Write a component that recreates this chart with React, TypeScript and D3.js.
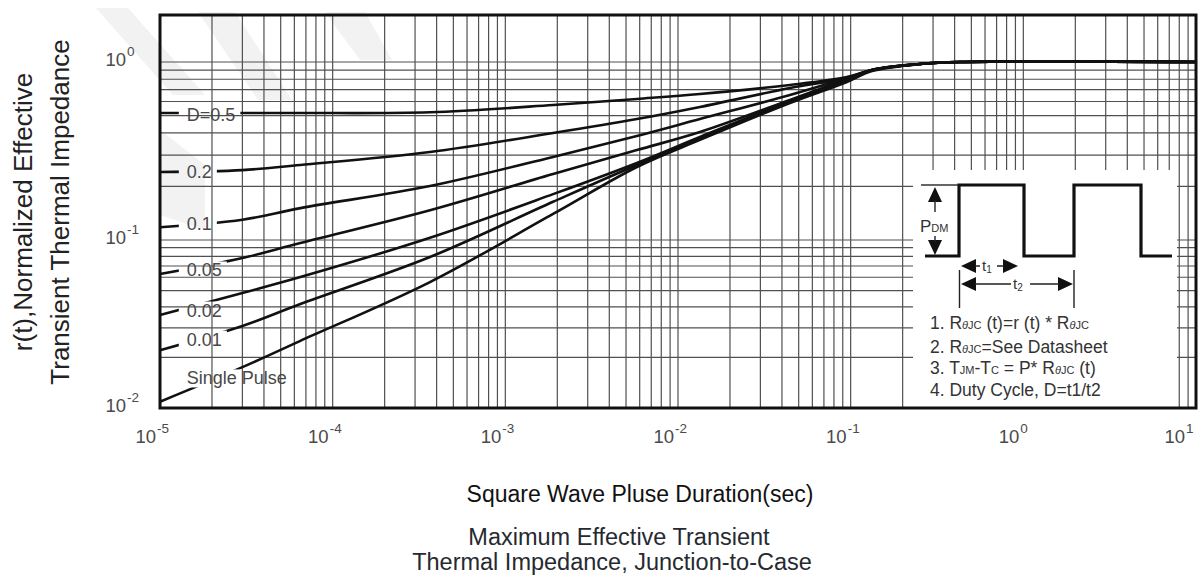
import React, { useEffect, useRef } from 'react';
import * as d3 from 'd3';

const W = 1199;
const H = 580;

// Pulse duration sample points (sec)
const pulseTimes = [1e-5, 3e-5, 6.5e-5, 3.66e-4, 1.89e-3, 5.78e-3, 1.34e-2, 4.45e-2, 9.5e-2, 0.133, 0.252, 0.43, 10];

// Normalized effective transient thermal impedance r(t) for each duty cycle
const rD05 = [0.517, 0.517, 0.517, 0.522, 0.573, 0.62, 0.661, 0.743, 0.823, 0.902, 0.974, 1.0, 1.0];
const rD02 = [0.241, 0.247, 0.264, 0.312, 0.399, 0.478, 0.559, 0.714, 0.813, 0.902, 0.974, 1.0, 1.0];
const rD01 = [0.118, 0.13, 0.151, 0.201, 0.293, 0.384, 0.478, 0.653, 0.813, 0.902, 0.974, 1.0, 1.0];
const rD005 = [0.0627, 0.0781, 0.096, 0.147, 0.235, 0.32, 0.404, 0.612, 0.803, 0.902, 0.974, 1.0, 1.0];
const rD002 = [0.0358, 0.0484, 0.0602, 0.103, 0.181, 0.271, 0.379, 0.604, 0.792, 0.902, 0.974, 1.0, 1.0];
const rD001 = [0.0221, 0.0308, 0.0416, 0.0792, 0.164, 0.264, 0.369, 0.596, 0.782, 0.902, 0.974, 1.0, 1.0];
const rSingle = [0.0109, 0.0175, 0.0251, 0.0562, 0.14, 0.257, 0.365, 0.588, 0.772, 0.89, 0.974, 1.0, 1.0];

const seriesValues = [rD05, rD02, rD01, rD005, rD002, rD001, rSingle];
const seriesLabels = ['D=0.5', '0.2', '0.1', '0.05', '0.02', '0.01', 'Single Pulse'];
// label anchor (data space): time of label start, r at label centre
const labelTime = 1.43e-5;
const labelR = [0.51, 0.244, 0.123, 0.0663, 0.0383, 0.0257, 0.0151];

const xTickExps = [-5, -4, -3, -2, -1, 0, 1];
const yTickExps = [-2, -1, 0];

const xTitle = 'Square Wave Pluse Duration(sec)';
const yTitle1 = 'r(t),Normalized Effective';
const yTitle2 = 'Transient Thermal Impedance';
const title1 = 'Maximum Effective Transient';
const title2 = 'Thermal Impedance, Junction-to-Case';

const FONT = '"Liberation Sans", Arial, Helvetica, sans-serif';

export default function App() {
  const ref = useRef<SVGSVGElement>(null);

  useEffect(() => {
    document.body.style.margin = '0';
    const svg = d3.select(ref.current as SVGSVGElement);
    svg.selectAll('*').remove();
    svg.attr('font-family', FONT);

    const L = 160, R = 1196, T = 15, B = 408;
    const x = d3.scaleLog().domain([1e-5, 10]).range([L, R]);
    const y = d3.scaleLog().domain([0.01, 0.1, 1]).range([B, 240, 62]);

    svg.append('rect').attr('width', W).attr('height', H).attr('fill', '#fff');

    // faint watermark
    const wm = svg.append('g').attr('fill', '#f2f2f2');
    const wmShapes = [
      [[96, 8], [128, 8], [205, 95], [173, 95]],
      [[198, 12], [235, 12], [292, 100], [258, 100]],
      [[325, 12], [365, 12], [392, 60], [360, 60]],
      [[160, 130], [205, 165], [205, 230], [160, 215]],
    ];
    wmShapes.forEach((p) => wm.append('polygon').attr('points', p.map((q) => q.join(',')).join(' ')));

    // grid
    const xGrid: number[] = [];
    for (let e = -5; e <= 0; e++) for (let k = 1; k <= 9; k++) xGrid.push(k * Math.pow(10, e));
    xGrid.push(10);
    const yGrid: number[] = [];
    for (let e = -2; e <= -1; e++) for (let k = 1; k <= 9; k++) yGrid.push(k * Math.pow(10, e));
    yGrid.push(1);

    const grid = svg.append('g').attr('stroke', '#505050').attr('stroke-width', 1.2);
    grid.selectAll('line.v').data(xGrid).enter().append('line')
      .attr('x1', (d) => x(d)).attr('x2', (d) => x(d)).attr('y1', T).attr('y2', B);
    grid.selectAll('line.h').data(yGrid).enter().append('line')
      .attr('x1', L).attr('x2', R).attr('y1', (d) => y(d)).attr('y2', (d) => y(d));

    // inset box
    const ins = svg.append('g');
    ins.append('rect').attr('x', 913).attr('y', 170).attr('width', 264).attr('height', 237).attr('fill', '#fff');
    ins.append('path').attr('d', 'M925,256H959V185H1024V256H1074V185H1141V256H1172')
      .attr('stroke', '#111').attr('stroke-width', 3.2).attr('fill', 'none');
    ins.append('path').attr('d', 'M921,185H958').attr('stroke', '#333').attr('stroke-width', 1.3);

    const head = (tx: number, ty: number, dir: string) => {
      const l = 15, w = 7;
      let pts: number[][];
      if (dir === 'up') pts = [[tx, ty], [tx - w, ty + l], [tx + w, ty + l]];
      else if (dir === 'down') pts = [[tx, ty], [tx - w, ty - l], [tx + w, ty - l]];
      else if (dir === 'left') pts = [[tx, ty], [tx + l, ty - w], [tx + l, ty + w]];
      else pts = [[tx, ty], [tx - l, ty - w], [tx - l, ty + w]];
      ins.append('polygon').attr('points', pts.map((p) => p.join(',')).join(' ')).attr('fill', '#111');
    };
    const thin = (d: string) => ins.append('path').attr('d', d).attr('stroke', '#222').attr('stroke-width', 1.4).attr('fill', 'none');

    // PDM
    head(935, 187, 'up');
    head(935, 255, 'down');
    thin('M935,200V212 M935,236V242');
    const pdm = ins.append('text').attr('x', 920).attr('y', 232).attr('fill', '#333').attr('font-size', 17);
    pdm.append('tspan').text('P');
    pdm.append('tspan').attr('font-size', 11).text('DM');

    // t1
    head(961, 266, 'left');
    head(1018, 266, 'right');
    thin('M975,266H980 M997,266H1004');
    const t1 = ins.append('text').attr('x', 982).attr('y', 271).attr('fill', '#333').attr('font-size', 15);
    t1.append('tspan').text('t');
    t1.append('tspan').attr('font-size', 10).attr('dy', 2).text('1');

    // t2
    head(961, 284, 'left');
    head(1073, 284, 'right');
    thin('M975,284H1011 M1030,284H1059');
    const t2 = ins.append('text').attr('x', 1013).attr('y', 289).attr('fill', '#333').attr('font-size', 15);
    t2.append('tspan').text('t');
    t2.append('tspan').attr('font-size', 10).attr('dy', 2).text('2');
    thin('M959.5,270V308 M1074,270V308');

    // notes
    type Seg = { t: string; s?: boolean; i?: boolean };
    const notes: Seg[][] = [
      [{ t: '1. R' }, { t: 'θ', s: true, i: true }, { t: 'JC', s: true }, { t: ' (t)=r (t) * R' }, { t: 'θ', s: true, i: true }, { t: 'JC', s: true }],
      [{ t: '2. R' }, { t: 'θ', s: true, i: true }, { t: 'JC', s: true }, { t: '=See Datasheet' }],
      [{ t: '3. T' }, { t: 'JM', s: true }, { t: '-T' }, { t: 'C', s: true }, { t: ' = P* R' }, { t: 'θ', s: true, i: true }, { t: 'JC', s: true }, { t: ' (t)' }],
      [{ t: '4. Duty Cycle, D=t1/t2' }],
    ];
    const noteY = [329, 353, 374, 396];
    notes.forEach((segs, i) => {
      const tx = ins.append('text').attr('x', 930).attr('y', noteY[i]).attr('fill', '#333').attr('font-size', 17.5).attr('xml:space', 'preserve');
      segs.forEach((sg) => {
        const ts = tx.append('tspan').text(sg.t);
        if (sg.s) ts.attr('font-size', 11);
        if (sg.i) ts.attr('font-style', 'italic');
      });
    });

    // curves with mask for labels
    const defs = svg.append('defs');
    const mask = defs.append('mask').attr('id', 'lblmask').attr('maskUnits', 'userSpaceOnUse')
      .attr('x', 0).attr('y', 0).attr('width', W).attr('height', H);
    mask.append('rect').attr('x', 0).attr('y', 0).attr('width', W).attr('height', H).attr('fill', '#fff');

    const line = d3.line<[number, number]>()
      .x((d) => x(d[0])).y((d) => y(d[1])).curve(d3.curveCatmullRom.alpha(0.5));
    const cg = svg.append('g').attr('mask', 'url(#lblmask)');
    seriesValues.forEach((vals) => {
      const pts: [number, number][] = pulseTimes.map((t, i) => [t, vals[i]]);
      cg.append('path').attr('d', line(pts) as string).attr('fill', 'none')
        .attr('stroke', '#111').attr('stroke-width', 2.6).attr('stroke-linejoin', 'round');
    });

    const lg = svg.append('g').attr('font-size', 18).attr('fill', '#484848');
    seriesLabels.forEach((lab, i) => {
      const t = lg.append('text').attr('x', x(labelTime)).attr('y', y(labelR[i]) + 6.5).text(lab);
      const b = (t.node() as SVGTextElement).getBBox();
      mask.append('rect').attr('x', b.x - 8).attr('y', b.y + 1).attr('width', b.width + 13)
        .attr('height', b.height - 2).attr('fill', '#000');
    });

    // border
    svg.append('rect').attr('x', L).attr('y', T).attr('width', R - L).attr('height', B - T)
      .attr('fill', 'none').attr('stroke', '#111').attr('stroke-width', 3);

    // tick labels
    const tl = svg.append('g').attr('fill', '#4a4a4a');
    xTickExps.forEach((e) => {
      const px = Math.min(x(Math.pow(10, e)) - 4, 1185);
      tl.append('text').attr('x', px).attr('y', 443).attr('text-anchor', 'end').attr('font-size', 18.5).text('10');
      tl.append('text').attr('x', px + 1).attr('y', 433).attr('font-size', 13.5).text(String(e));
    });
    yTickExps.forEach((e) => {
      const py = y(Math.pow(10, e));
      tl.append('text').attr('x', 126).attr('y', py + 4).attr('text-anchor', 'end').attr('font-size', 18.5).text('10');
      tl.append('text').attr('x', 127).attr('y', py - 6).attr('font-size', 13.5).text(String(e));
    });

    // titles
    svg.append('text').attr('x', 640).attr('y', 502).attr('text-anchor', 'middle').attr('font-size', 23)
      .attr('fill', '#111').text(xTitle);
    svg.append('text').attr('x', 619).attr('y', 545).attr('text-anchor', 'middle').attr('font-size', 23.5)
      .attr('fill', '#262a30').text(title1);
    svg.append('text').attr('x', 612).attr('y', 570).attr('text-anchor', 'middle').attr('font-size', 23.5)
      .attr('fill', '#262a30').text(title2);
    svg.append('text').attr('transform', 'translate(32,212) rotate(-90)').attr('text-anchor', 'middle')
      .attr('font-size', 26).attr('fill', '#222').text(yTitle1);
    svg.append('text').attr('transform', 'translate(69,212) rotate(-90)').attr('text-anchor', 'middle')
      .attr('font-size', 26).attr('fill', '#222').text(yTitle2);
  }, []);

  return <svg ref={ref} width={W} height={H} style={{ display: 'block', background: '#fff' }} />;
}
